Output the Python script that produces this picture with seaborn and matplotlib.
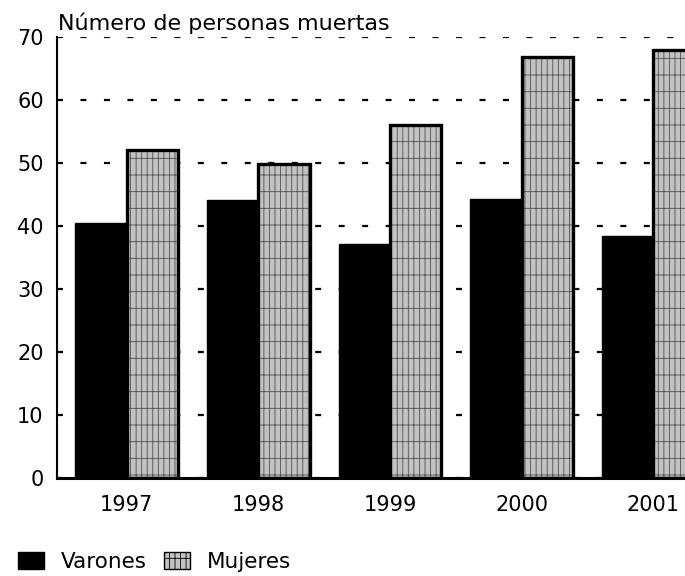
import pandas as pd
import matplotlib
matplotlib.use('Agg')
import matplotlib.pyplot as plt
from matplotlib.patches import Patch, Rectangle
import seaborn as sns

# values
years = ['1997', '1998', '1999', '2000', '2001']
varones = [40.5, 44.1, 37.1, 44.3, 38.4]
mujeres = [52.1, 49.8, 56.0, 66.8, 67.9]
grupos = ['Varones', 'Mujeres']
yticks = [0, 10, 20, 30, 40, 50, 60, 70]

df = pd.DataFrame({
    'year': years * 2,
    'sexo': ['Varones'] * len(years) + ['Mujeres'] * len(years),
    'muertes': varones + mujeres,
})

sns.set_style('white')
plt.rcParams['font.family'] = ['DejaVu Sans']
plt.rcParams['text.color'] = 'black'
plt.rcParams['hatch.linewidth'] = 0.6
plt.rcParams['lines.scale_dashes'] = False

gris = '#c2c2c2'
colores = {'Varones': 'black', 'Mujeres': gris}

fig = plt.figure(figsize=(6.85, 5.76), dpi=100)
ax = fig.add_axes([0.083, 0.170, 0.917, 0.766])

sns.barplot(data=df, x='year', y='muertes', hue='sexo', hue_order=grupos,
            palette=colores, width=0.78, saturation=1, linewidth=0,
            edgecolor='#505050', legend=False, ax=ax)

# hatch the grey bars and redraw a heavy black outline on top
for p in list(ax.patches):
    fc = p.get_facecolor()
    if fc[0] > 0.5:
        p.set_hatch('+||')
        p.set_edgecolor('#505050')
        ax.add_patch(Rectangle(p.get_xy(), p.get_width(), p.get_height(),
                               fill=False, edgecolor='black', linewidth=2.4, zorder=3))
    else:
        p.set_edgecolor('black')
        p.set_linewidth(1)

ax.set_xlim(-0.53, 4.24)
ax.set_ylim(0, 70)
ax.set_yticks(yticks)
ax.set_xlabel('')
ax.set_ylabel('')

ax.set_axisbelow(True)
ax.yaxis.grid(True, color='black', linestyle=(0, (4.3, 12.6)), linewidth=1.6)
ax.xaxis.grid(False)

ax.tick_params(axis='y', direction='inout', length=13, width=1.4,
               labelsize=15, pad=3, colors='black')
ax.tick_params(axis='x', length=0, labelsize=15, pad=12, colors='black')

for s in ['top', 'right']:
    ax.spines[s].set_visible(False)
ax.spines['left'].set_linewidth(1.5)
ax.spines['left'].set_color('black')
ax.spines['bottom'].set_linewidth(2.2)
ax.spines['bottom'].set_color('black')

fig.text(0.085, 0.948, 'Número de personas muertas', fontsize=16,
         color='black', ha='left', va='baseline')

handles = [Patch(facecolor='black', edgecolor='black'),
           Patch(facecolor=gris, edgecolor='black', hatch='+||')]
fig.legend(handles, grupos, loc='lower left', bbox_to_anchor=(0.02, 0.0),
           ncol=2, frameon=False, fontsize=15.5, handlelength=1.2,
           handleheight=0.85, handletextpad=0.8, columnspacing=0.8,
           borderaxespad=0, borderpad=0.2, labelcolor='black')

fig.savefig('out.png', dpi=100)
